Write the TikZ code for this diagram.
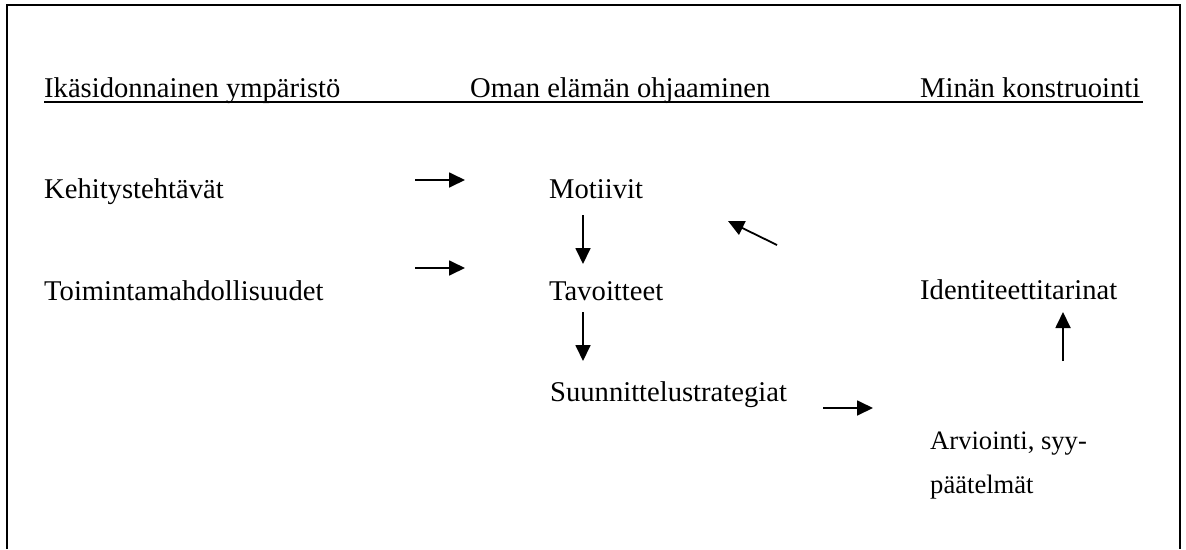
\documentclass[tikz,border=0pt]{standalone}
\usepackage{fontspec}
\setmainfont{Liberation Serif}
\usetikzlibrary{arrows.meta}
\begin{document}
\begin{tikzpicture}[x=1pt,y=-1pt,
  lbl/.style={anchor=base west,inner sep=0pt,font=\fontsize{28.6}{34}\selectfont},
  small/.style={lbl,font=\fontsize{26.6}{32}\selectfont},
  flow/.style={line width=1.8pt,-{Triangle[length=16pt,width=15pt]}},
  frame/.style={line width=2pt}]
  \useasboundingbox (0,0) rectangle (1186,549);
  % open frame: top edge and both sides
  \draw[frame] (7,549) -- (7,5) -- (1180,5) -- (1180,549);
  % column headings and their common underline
  \node[lbl] (h1) at (44,97) {Ikäsidonnainen ympäristö};
  \node[lbl] (h2) at (470,97) {Oman elämän ohjaaminen};
  \node[lbl] (h3) at (920,97) {Minän konstruointi};
  \coordinate (ulA) at (44,102);
  \coordinate (ulB) at (1143,102);
  \draw[line width=1.8pt] (ulA) -- (ulB);
  % terms
  \node[lbl] (keh) at (44,198) {Kehitystehtävät};
  \node[lbl] (toi) at (44,300) {Toimintamahdollisuudet};
  \node[lbl] (mot) at (549,198) {Motiivit};
  \node[lbl] (tav) at (549,300) {Tavoitteet};
  \node[lbl] (suu) at (550,401) {Suunnittelustrategiat};
  \node[lbl] (ide) at (920,299) {Identiteettitarinat};
  \node[small] (arv) at (930,449) {Arviointi, syy-};
  \node[small] (paa) at (930,493) {päätelmät};
  % arrow end points
  \coordinate (a1s) at (415,180);  \coordinate (a1e) at (465,180);
  \coordinate (a2s) at (415,268);  \coordinate (a2e) at (465,268);
  \coordinate (d1s) at (583,215);  \coordinate (d1e) at (583,264);
  \coordinate (d2s) at (583,312);  \coordinate (d2e) at (583,361);
  \coordinate (gs)  at (777,245);  \coordinate (ge)  at (728,221);
  \coordinate (rs)  at (823,408);  \coordinate (re)  at (873,408);
  \coordinate (us)  at (1063,361); \coordinate (ue)  at (1063,312);
  \draw[flow] (a1s) -- (a1e);
  \draw[flow] (a2s) -- (a2e);
  \draw[flow] (d1s) -- (d1e);
  \draw[flow] (d2s) -- (d2e);
  \draw[flow] (gs) -- (ge);
  \draw[flow] (rs) -- (re);
  \draw[flow] (us) -- (ue);
\end{tikzpicture}
\end{document}
